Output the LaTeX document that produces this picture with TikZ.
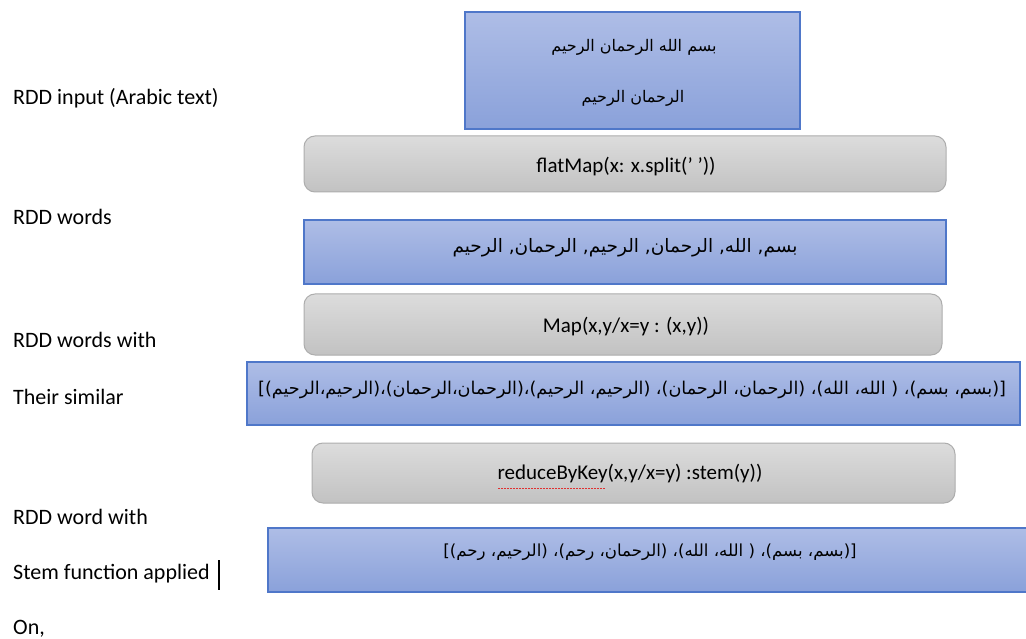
\documentclass[tikz,border=0pt]{standalone}
\usepackage{fontspec}
\setmainfont{Carlito}
\newfontfamily\arabicfont[Script=Arabic]{DejaVu Sans}
\TeXXeTstate=1
\definecolor{blueTop}{HTML}{AEBDE6}
\definecolor{blueBot}{HTML}{8AA1DA}
\definecolor{blueEdge}{HTML}{4F77C9}
\definecolor{grayTop}{HTML}{DCDCDC}
\definecolor{grayBot}{HTML}{C2C2C2}
\definecolor{grayEdge}{HTML}{ADADAD}
\definecolor{spellRed}{HTML}{E03030}
\tikzset{
  bluebox/.style={draw=blueEdge, line width=1.3pt, top color=blueTop, bottom color=blueBot, inner sep=0pt},
  graybox/.style={draw=grayEdge, line width=1pt, rounded corners=11pt, top color=grayTop, bottom color=grayBot, inner sep=0pt},
  lbl/.style={anchor=west, inner sep=0pt, font=\fontsize{22}{26}\selectfont},
  optext/.style={inner sep=0pt, font=\fontsize{21}{24}\selectfont},
  artext/.style={inner sep=0pt, font=\arabicfont\fontsize{#1}{22}\selectfont},
  squiggle/.style={draw=spellRed, line width=0.9pt, dash pattern=on 1.5pt off 1.5pt},
}
\begin{document}
\begin{tikzpicture}[x=1pt,y=-1pt]
\useasboundingbox[fill=white] (0,0) rectangle (1026,639);
% boxes
\node[bluebox, minimum width=335pt, minimum height=117pt] (b1) at (632.5,70.5) {};
\node[graybox, minimum width=642pt, minimum height=56pt] (b2) at (625,164) {};
\node[bluebox, minimum width=642pt, minimum height=64pt] (b3) at (625,252) {};
\node[graybox, minimum width=638pt, minimum height=61pt] (b4) at (623,324.5) {};
\node[bluebox, minimum width=773pt, minimum height=63pt] (b5) at (633.5,393.5) {};
\node[graybox, minimum width=643pt, minimum height=60pt] (b6) at (633.5,473) {};
\node[bluebox, minimum width=762pt, minimum height=64pt] (b7) at (649,560) {};
% box texts
\node[artext=16] (t1a) at (634,47) {\beginR بسم الله الرحمان الرحيم\endR};
\node[artext=16] (t1b) at (633,98) {\beginR الرحمان الرحيم\endR};
\node[optext] (t2) at (626,167) {flatMap(x: x.split(' '))};
\node[artext=18.5] (t3) at (625,248) {\beginR بسم, الله, الرحمان, الرحيم, الرحمان, الرحيم\endR};
\node[optext] (t4) at (626,327) {Map(x,y/x=y : (x,y))};
\node[artext=17.6] (t5) at (632,390) {\beginR [(بسم، بسم)، ( الله، الله)، (الرحمان، الرحمان)، (الرحيم، الرحيم)،(الرحمان،الرحمان)،(الرحيم،الرحيم)]\endR};
\node[optext] (t6) at (630,474) {reduceByKey(x,y/x=y) :stem(y))};
\node[artext=16.6] (t7) at (650,552) {\beginR [(بسم، بسم)، ( الله، الله)، (الرحمان، رحم)، (الرحيم، رحم)]\endR};
% spell-check marks under the operation text
\coordinate (s1) at ([xshift=1pt,yshift=-5pt]t6.south west);
\coordinate (s2) at ([xshift=108pt,yshift=-5pt]t6.south west);
\draw[squiggle] (s1) -- (s2);
% left labels
\node[lbl] (l1) at (13,98) {RDD input (Arabic text)};
\node[lbl] (l2) at (13,217) {RDD words};
\node[lbl] (l3) at (13,340) {RDD words with};
\node[lbl] (l4) at (13,397) {Their similar};
\node[lbl] (l5) at (13,517) {RDD word with};
\node[lbl] (l6) at (13,574) {Stem function applied};
\node[lbl] (l7) at (13,629) {On,};
\coordinate (c1) at (219,560);
\coordinate (c2) at (219,590);
\draw[line width=1.3pt] (c1) -- (c2);
\end{tikzpicture}
\end{document}
